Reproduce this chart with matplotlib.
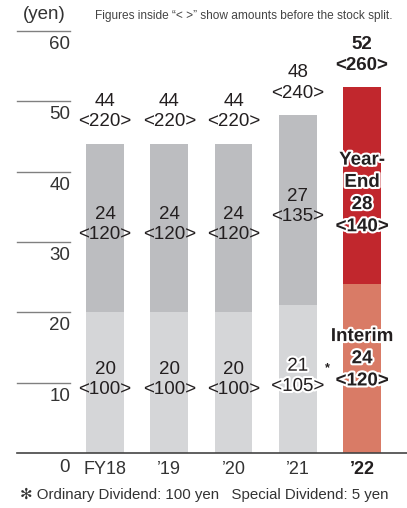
import matplotlib
matplotlib.use("Agg")
import matplotlib.pyplot as plt
import matplotlib.patheffects as pe

plt.rcParams['font.family'] = ['Liberation Sans', 'DejaVu Sans']

# data
years = ["FY18", "\u201919", "\u201920", "\u201921", "\u201922"]
interim = [20, 20, 20, 21, 24]
interim_old = [100, 100, 100, 105, 120]
year_end = [24, 24, 24, 27, 28]
year_end_old = [120, 120, 120, 135, 140]
yticks = [10, 20, 30, 40, 50, 60]

totals = [a + b for a, b in zip(interim, year_end)]
totals_old = [a + b for a, b in zip(interim_old, year_end_old)]

TXT = '#231f20'
GRAY_LIGHT = '#d5d6d8'
GRAY_DARK = '#bcbdc0'
RED = '#c1272d'
SALMON = '#d97b66'
FS = 13.5

fig = plt.figure(figsize=(4.07, 5.08), dpi=100)
ax = fig.add_axes([17 / 407, 55 / 508, 1 - 17 / 407, 422 / 508])
ax.set_xlim(-1.37, 4.70)
ax.set_ylim(0, 60)
for s in ax.spines.values():
    s.set_visible(False)
ax.set_yticks([])

x = list(range(len(years)))
last = len(years) - 1
c_int = [SALMON if i == last else GRAY_LIGHT for i in x]
c_ye = [RED if i == last else GRAY_DARK for i in x]
ax.bar(x, interim, width=0.59, color=c_int, zorder=2)
ax.bar(x, year_end, width=0.59, bottom=interim, color=c_ye, zorder=2)

ax.axhline(0, xmin=0, xmax=1, color='#444444', lw=1.2, zorder=3, clip_on=False)

# left scale: short lines with labels below
for v in yticks:
    ax.plot([-1.37, -0.545], [v, v], color='#808080', lw=1.0, clip_on=False)
    ax.text(-0.545, v - 1.9, str(v), ha='right', va='center', fontsize=FS,
            color='#333333', clip_on=False)
ax.text(-0.545, -2.0, "0", ha='right', va='center', fontsize=FS, color='#333333',
        clip_on=False)
ax.text(-0.95, 62.3, "(yen)", ha='center', va='center', fontsize=FS,
        color='#333333', clip_on=False)
ax.text(-0.16, 62.1, "Figures inside \u201c< >\u201d show amounts before the stock split.",
        ha='left', va='center', fontsize=8.6, color='#444444', clip_on=False,
        family=['Liberation Sans Narrow', 'Liberation Sans', 'DejaVu Sans'])

ax.set_xticks(x)
ax.set_xticklabels(years, fontsize=13, color='#333333')
ax.tick_params(axis='x', length=0, pad=6)
ax.get_xticklabels()[last].set_fontweight('bold')
ax.get_xticklabels()[last].set_color(TXT)

halo = [pe.withStroke(linewidth=3, foreground='white')]
for i in x:
    if i == last:
        ax.text(i, interim[i] / 2 + 1.4, f"Interim\n{interim[i]}\n<{interim_old[i]}>",
                ha='center', va='center', fontsize=FS, fontweight='bold',
                color=TXT, linespacing=1.4, path_effects=halo, zorder=4)
        ax.text(i, interim[i] + year_end[i] / 2 - 1.1,
                f"Year-\nEnd\n{year_end[i]}\n<{year_end_old[i]}>",
                ha='center', va='center', fontsize=FS, fontweight='bold',
                color=TXT, linespacing=1.4, path_effects=halo, zorder=4)
        ax.text(i, totals[i] + 4.6, f"{totals[i]}\n<{totals_old[i]}>",
                ha='center', va='center', fontsize=FS, fontweight='bold',
                color=TXT, linespacing=1.25, zorder=4)
    else:
        fx = halo if i == 3 else None
        ax.text(i, interim[i] / 2 + 0.4, f"{interim[i]}\n<{interim_old[i]}>",
                ha='center', va='center', fontsize=FS, color=TXT,
                linespacing=1.25, path_effects=fx, zorder=4)
        ax.text(i, interim[i] + year_end[i] / 2 + 0.5,
                f"{year_end[i]}\n<{year_end_old[i]}>",
                ha='center', va='center', fontsize=FS, color=TXT,
                linespacing=1.25, zorder=4)
        ax.text(i, totals[i] + 4.6, f"{totals[i]}\n<{totals_old[i]}>",
                ha='center', va='center', fontsize=FS, color=TXT,
                linespacing=1.25, zorder=4)

# special dividend mark on FY21 interim
ax.text(3 + 0.46, interim[3] / 2 + 1.5, "*", ha='center', va='center',
        fontsize=9, fontweight='bold', color=TXT, zorder=5)

fig.text(20 / 407, 1 - 495 / 508,
         "\u273b Ordinary Dividend: 100 yen   Special Dividend: 5 yen",
         ha='left', va='center', fontsize=10.8, color='#333333',
         family=['Liberation Sans', 'DejaVu Sans'])

fig.savefig("out.png", dpi=100)
